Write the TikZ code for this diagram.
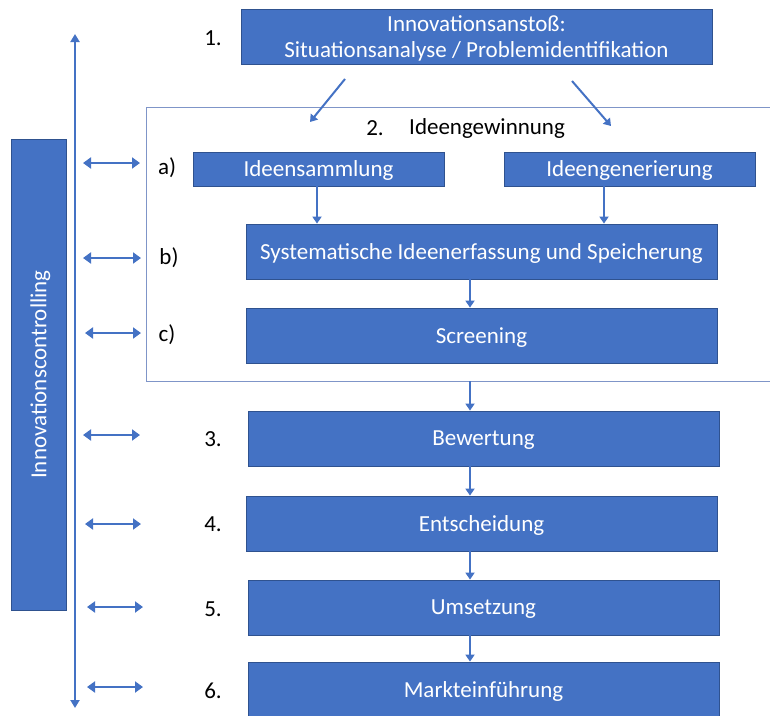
\documentclass[tikz,border=0pt]{standalone}
\usepackage{fontspec}
\setmainfont{Carlito}
\usetikzlibrary{arrows.meta}
\definecolor{boxblue}{HTML}{4472C4}
\definecolor{boxedge}{HTML}{2F528F}
\definecolor{groupedge}{HTML}{7F95C8}
\definecolor{arrowblue}{HTML}{4472C4}
\begin{document}
\begin{tikzpicture}[x=1pt,y=-1pt,
  txt/.style={font=\fontsize{23}{26}\selectfont},
  stage/.style={txt, draw=boxedge, fill=boxblue, text=white, line width=0.8pt,
    inner sep=0pt, align=center, text depth=0pt, minimum height=55pt, minimum width=471pt},
  smallstage/.style={stage, minimum height=34pt, minimum width=251pt},
  group/.style={draw=groupedge, line width=0.9pt, inner sep=0pt},
  lbl/.style={txt, text=black, inner sep=0pt},
  flow/.style={draw=arrowblue, line width=2pt, -{Triangle[length=7pt,width=9pt]}},
  both/.style={draw=arrowblue, line width=2.8pt, {Triangle[length=8pt,width=11pt]}-{Triangle[length=8pt,width=11pt]}},
  axisline/.style={draw=arrowblue, line width=2pt, -{Triangle[length=8pt,width=9pt]}}
]
\useasboundingbox (0,0) rectangle (770,715);

% frame around the idea-generation phase
\node[group, minimum width=626pt, minimum height=274pt] (grp) at (459,244) {};

% process stages
\node[stage] (s1) at (476.5,36.5) {Innovationsanstoß:\\Situationsanalyse / Problemidentifikation};
\node[smallstage] (sam) at (318.5,169) {Ideensammlung};
\node[smallstage] (gen) at (629.5,169) {Ideengenerierung};
\node[stage] (sys) at (481.5,251.5) {Systematische Ideenerfassung und Speicherung};
\node[stage] (scr) at (481.5,335.5) {Screening};
\node[stage] (bew) at (483.5,438.5) {Bewertung};
\node[stage] (ent) at (481.5,523.5) {Entscheidung};
\node[stage] (ums) at (483.5,607.5) {Umsetzung};
\node[stage] (mkt) at (483.5,689.5) {Markteinführung};

% controlling bar
\node[stage, minimum width=471pt, minimum height=55pt, rotate=90] (ctrl) at (38.5,374.5) {Innovationscontrolling};

% step labels
\node[lbl] (n1) at (213,38) {1.};
\node[lbl] (n2) at (375,128) {2.};
\node[lbl, anchor=west] (n2t) at (409,128) {Ideengewinnung};
\node[lbl] (la) at (167,168) {a)};
\node[lbl] (lb) at (169,258) {b)};
\node[lbl] (lc) at (167,335) {c)};
\node[lbl] (n3) at (213,439) {3.};
\node[lbl] (n4) at (213,524) {4.};
\node[lbl] (n5) at (213,609) {5.};
\node[lbl] (n6) at (213,691) {6.};

% arrows from the trigger into the idea phase
\coordinate (d1a) at (345,79);  \coordinate (d1b) at (310,122);
\coordinate (d2a) at (572,81);  \coordinate (d2b) at (611,126);
\draw[flow] (d1a) -- (d1b);
\draw[flow] (d2a) -- (d2b);

% vertical flow
\coordinate (gx) at (604,0);
\coordinate (mx) at (470,0);
\coordinate (lx) at (317,0);
\draw[flow] (sam.south -| lx) -- (sys.north -| lx);
\draw[flow] (gen.south -| gx) -- (sys.north -| gx);
\draw[flow] (sys.south -| mx) -- (scr.north -| mx);
\draw[flow] (grp.south -| mx) -- (bew.north -| mx);
\draw[flow] (bew.south -| mx) -- (ent.north -| mx);
\draw[flow] (ent.south -| mx) -- (ums.north -| mx);
\draw[flow] (ums.south -| mx) -- (mkt.north -| mx);

% controlling axis, pointing both ways
\coordinate (vt) at (75,34);
\coordinate (vb) at (75,708);
\coordinate (vm) at (75,371);
\draw[axisline] (vm) -- (vt);
\draw[axisline] (vm) -- (vb);

% feedback arrows
\foreach \y/\a/\b [count=\i] in {163/83/140, 258/83/141, 333/85/141, 435/83/140, 524/85/141, 607/87/143, 687/87/143}{
  \coordinate (fa\i) at (\a,\y);
  \coordinate (fb\i) at (\b,\y);
  \draw[both] (fa\i) -- (fb\i);
}
\end{tikzpicture}
\end{document}
